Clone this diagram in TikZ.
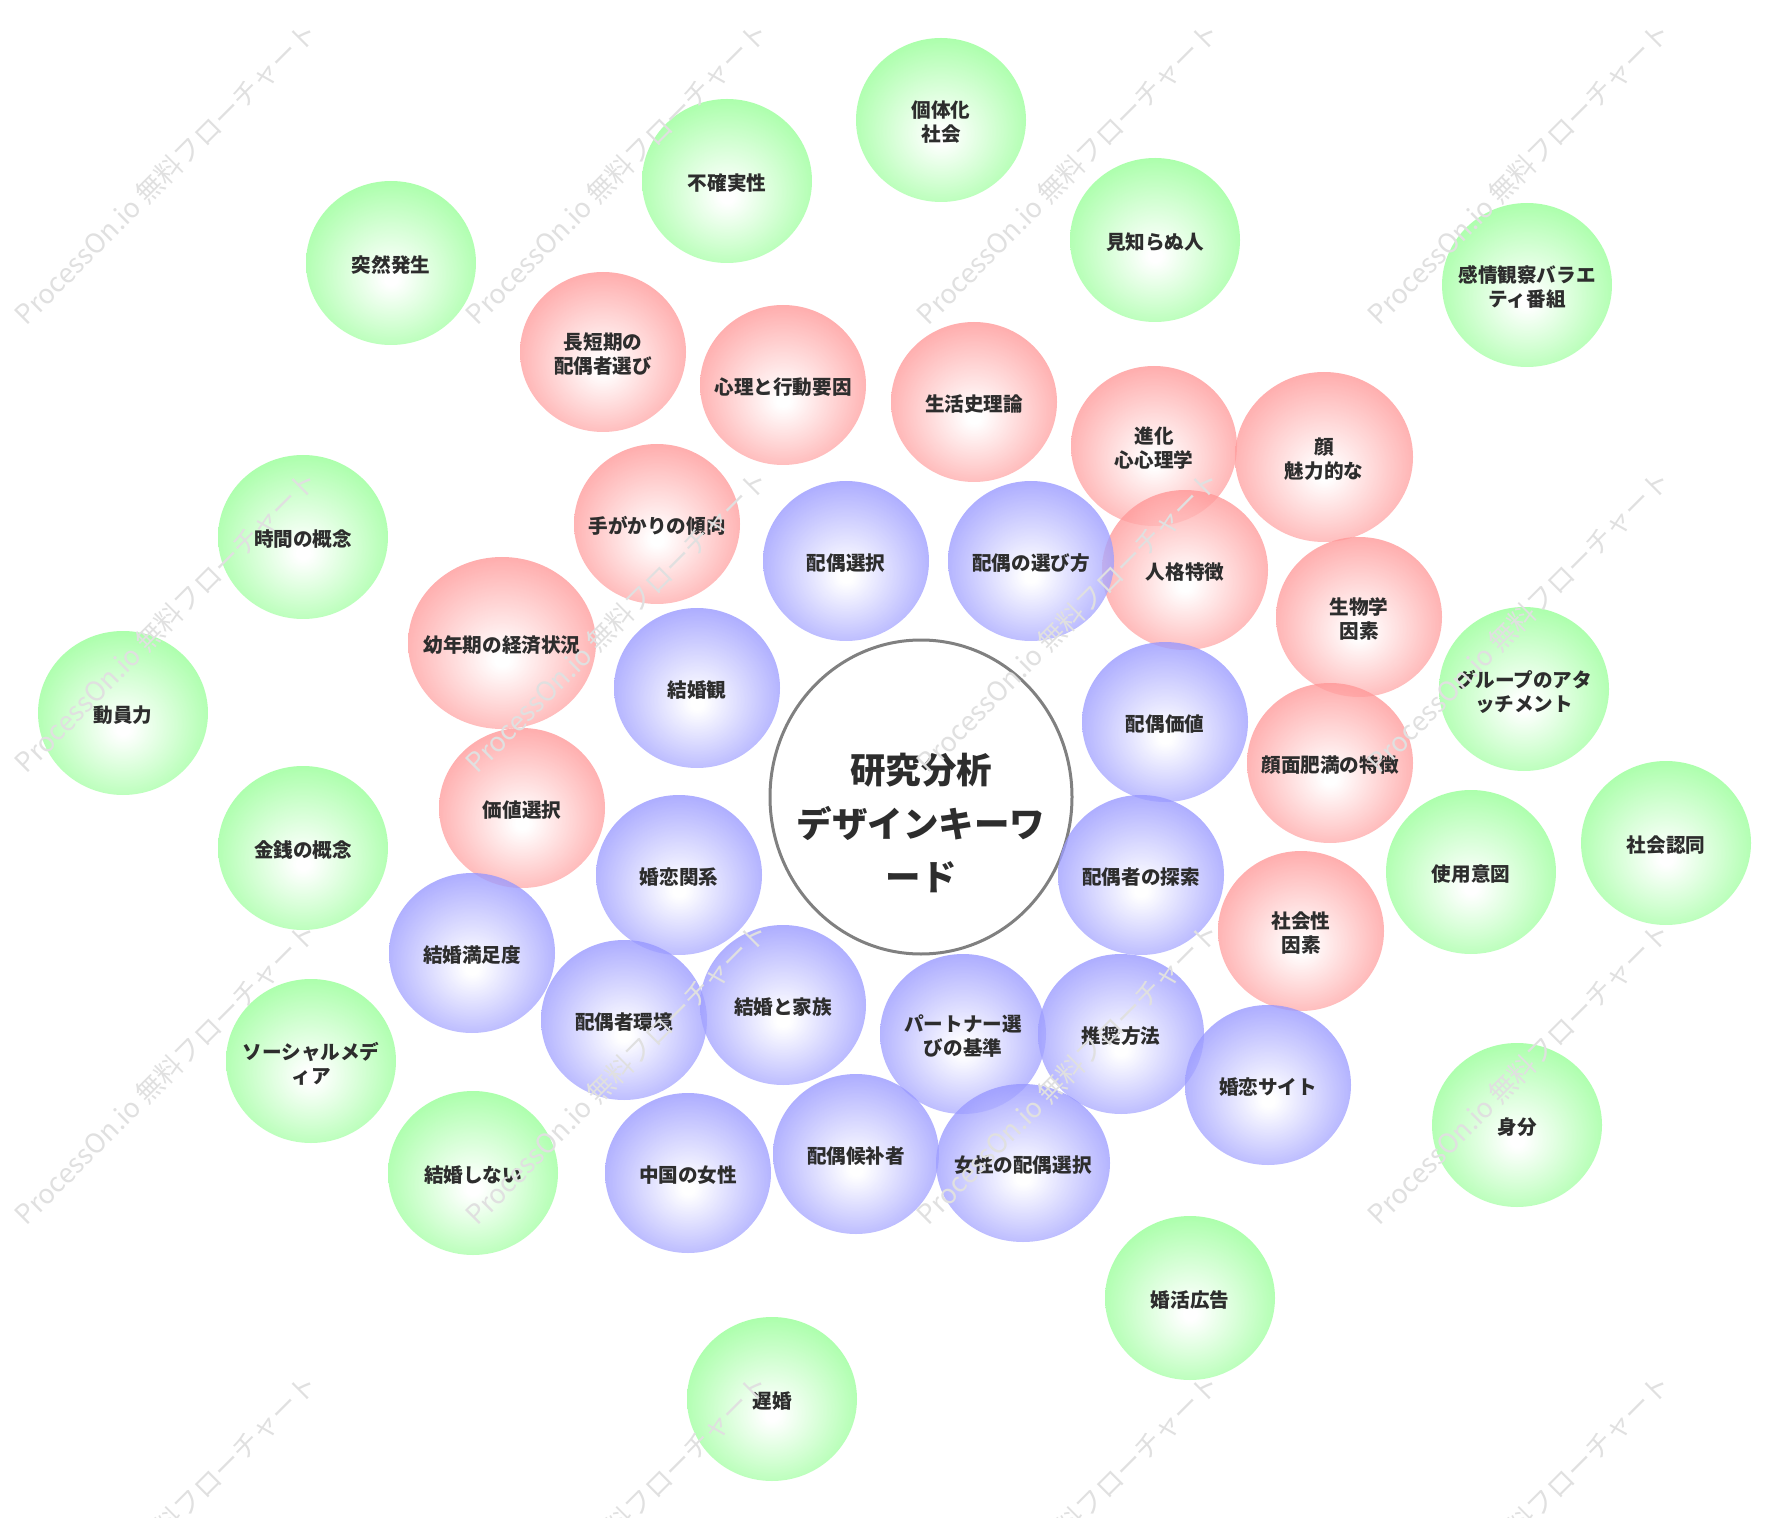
\documentclass[tikz,border=0pt]{standalone}
\usepackage{fontspec}
\setmainfont{Noto Sans CJK JP}
\usetikzlibrary{shapes.geometric}
\definecolor{gE}{RGB}{108,255,108}
\definecolor{rE}{RGB}{255,110,110}
\definecolor{bE}{RGB}{110,110,255}
\definecolor{txt}{RGB}{45,45,45}
\definecolor{wm}{RGB}{224,224,224}
\definecolor{cgray}{RGB}{128,128,128}
\pgfdeclareradialshading{shG}{\pgfpoint{0bp}{-5bp}}{color(0bp)=(white);color(2bp)=(white);color(37bp)=(gE);color(50bp)=(gE)}
\pgfdeclareradialshading{shR}{\pgfpoint{0bp}{-5bp}}{color(0bp)=(white);color(2bp)=(white);color(37bp)=(rE);color(50bp)=(rE)}
\pgfdeclareradialshading{shB}{\pgfpoint{0bp}{-5bp}}{color(0bp)=(white);color(2bp)=(white);color(37bp)=(bE);color(50bp)=(bE)}
\newcommand{\bl}[1]{\raisebox{-2.5pt}[\height][\depth]{\makebox[0pt][c]{\begin{tabular}{@{}c@{}}#1\end{tabular}}}}
\begin{document}
\begin{tikzpicture}[x=0.5pt,y=0.5pt,
  bub/.style={ellipse, inner sep=0pt, shade, fill opacity=0.78, text opacity=1, draw=none,
    font=\fontsize{9.8pt}{12pt}\selectfont\bfseries, text=txt},
  gbub/.style={bub, shading=shG, minimum width=85pt, minimum height=82pt},
  rbub/.style={bub, shading=shR, minimum width=83pt, minimum height=80pt},
  bbub/.style={bub, shading=shB, minimum width=83pt, minimum height=80pt},
  hub/.style={ellipse, draw=cgray, line width=1.5pt, fill=white, minimum width=151pt, minimum height=157pt, inner sep=0pt},
  hubtext/.style={font=\fontsize{17.75pt}{26.75pt}\selectfont\bfseries, text=txt, align=center, inner sep=0pt},
  wmark/.style={rotate=45, text=wm, font=\fontsize{13.5pt}{16pt}\selectfont, inner sep=0pt}
]
\useasboundingbox (0,0) rectangle (1788,-1518);

% central hub
\node[hub] (c) at (921,-797) {};
\node[hubtext] (ct) at (921,-823) {研究分析\\デザインキーワ\\ード};

% green
\node[gbub] (g1) at (941,-120) {\bl{個体化\\社会}};
\node[gbub] (g2) at (727,-181) {\bl{不確実性}};
\node[gbub] (g3) at (1155,-240) {\bl{見知らぬ人}};
\node[gbub] (g4) at (391,-263) {\bl{突然発生}};
\node[gbub] (g5) at (1527,-285) {\bl{感情観察バラエ\\ティ番組}};
\node[gbub] (g6) at (303,-537) {\bl{時間の概念}};
\node[gbub] (g7) at (123,-713) {\bl{動員力}};
\node[gbub] (g8) at (1524,-689) {\bl{グループのアタ\\ッチメント}};
\node[gbub] (g9) at (303,-848) {\bl{金銭の概念}};
\node[gbub] (g10) at (1666,-843) {\bl{社会認同}};
\node[gbub] (g11) at (1471,-872) {\bl{使用意図}};
\node[gbub] (g12) at (311,-1061) {\bl{ソーシャルメデ\\ィア}};
\node[gbub] (g13) at (473,-1173) {\bl{結婚しない}};
\node[gbub] (g14) at (1517,-1125) {\bl{身分}};
\node[gbub] (g15) at (1190,-1298) {\bl{婚活広告}};
\node[gbub] (g16) at (772,-1399) {\bl{遅婚}};

% red
\node[rbub] (r1) at (603,-352) {\bl{長短期の\\配偶者選び}};
\node[rbub] (r2) at (783,-385) {\bl{心理と行動要因}};
\node[rbub] (r3) at (974,-402) {\bl{生活史理論}};
\node[rbub] (r4) at (1154,-446) {\bl{進化\\心心理学}};
\node[rbub, minimum width=89pt, minimum height=85pt] (r5) at (1324,-457) {\bl{顔\\魅力的な}};
\node[rbub] (r6) at (657,-524) {\bl{手がかりの傾向}};
\node[rbub] (r7) at (1185,-570) {\bl{人格特徴}};
\node[rbub] (r8) at (1359,-617) {\bl{生物学\\因素}};
\node[rbub, minimum width=94pt, minimum height=86pt] (r9) at (502,-643) {\bl{幼年期の経済状況}};
\node[rbub] (r10) at (1330,-763) {\bl{顔面肥満の特徴}};
\node[rbub] (r11) at (522,-808) {\bl{価値選択}};
\node[rbub] (r12) at (1301,-931) {\bl{社会性\\因素}};

% blue
\node[bbub] (b1) at (846,-561) {\bl{配偶選択}};
\node[bbub] (b2) at (1031,-561) {\bl{配偶の選び方}};
\node[bbub] (b3) at (697,-688) {\bl{結婚観}};
\node[bbub] (b4) at (1165,-722) {\bl{配偶価値}};
\node[bbub] (b5) at (679,-875) {\bl{婚恋関系}};
\node[bbub] (b6) at (1141,-875) {\bl{配偶者の探索}};
\node[bbub] (b7) at (472,-953) {\bl{結婚満足度}};
\node[bbub] (b8) at (624,-1020) {\bl{配偶者環境}};
\node[bbub] (b9) at (783,-1005) {\bl{結婚と家族}};
\node[bbub] (b10) at (963,-1034) {\bl{パートナー選\\びの基準}};
\node[bbub] (b11) at (1121,-1034) {\bl{推奨方法}};
\node[bbub] (b12) at (1268,-1085) {\bl{婚恋サイト}};
\node[bbub] (b13) at (688,-1173) {\bl{中国の女性}};
\node[bbub] (b14) at (856,-1154) {\bl{配偶候补者}};
\node[bbub, minimum width=87pt, minimum height=79pt] (b15) at (1023,-1163) {\bl{女性の配偶選択}};

% watermarks
\foreach \i/\wx in {1/166,2/617,3/1068,4/1519}{
  \foreach \j/\wy in {1/173,2/621,3/1073,4/1525}{
    \node[wmark] (w\i\j) at (\wx,-\wy) {ProcessOn.io 無料フローチャート};
  }
}
\end{tikzpicture}
\end{document}
